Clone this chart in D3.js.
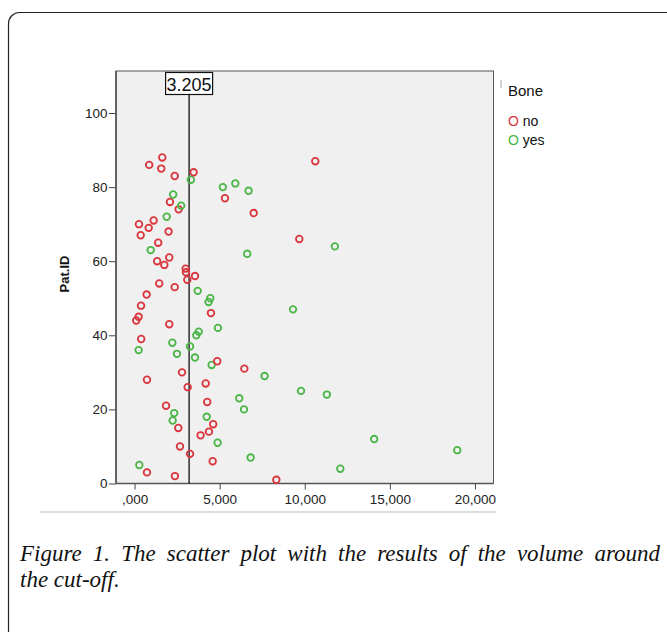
<!DOCTYPE html>
<html>
<head>
<meta charset="utf-8">
<script src="https://cdn.jsdelivr.net/npm/d3@7"></script>
<style>
  body { margin: 0; background: #fff; }
  .axis text { font-family: "Liberation Sans", Arial, sans-serif; font-size: 13.5px; fill: #222; }
  .axis line { stroke: #444; }
  .axis path { display: none; }
</style>
</head>
<body>
<svg id="chart" width="667" height="632"></svg>
<script>
// Pat.ID on y, volume on x, group = Bone
let patIds = [1, 2, 3, 4, 5, 6, 7, 8, 9, 10, 11, 12, 13, 14, 15, 16, 17, 18, 19, 20,
  21, 22, 23, 24, 25, 26, 27, 28, 29, 30, 31, 32, 33, 34, 35, 36, 37, 38, 39, 40,
  41, 42, 43, 44, 45, 46, 47, 48, 49, 50, 51, 52, 53, 54, 55, 56, 57, 58, 59, 60,
  61, 62, 63, 64, 65, 66, 67, 68, 69, 70, 71, 72, 73, 74, 75, 76, 77, 78, 79, 80,
  81, 82, 83, 84, 85, 86, 87, 88];
let volumes = [8.33, 2.37, 0.73, 12.09, 0.28, 4.59, 6.82, 3.26, 18.96, 2.67,
  4.88, 14.08, 3.88, 4.37, 2.57, 4.62, 2.24, 4.24, 2.33, 6.43,
  1.85, 4.27, 6.15, 11.30, 9.78, 3.12, 4.18, 0.73, 7.64, 2.79,
  6.45, 4.53, 4.86, 3.55, 2.49, 0.24, 3.26, 2.22, 0.39, 3.63,
  3.77, 4.90, 2.04, 0.10, 0.24, 4.49, 9.31, 0.38, 4.35, 4.45,
  0.71, 3.71, 2.36, 1.45, 3.10, 3.55, 3.02, 3.00, 1.75, 1.33,
  2.04, 6.62, 0.95, 11.77, 1.39, 9.68, 0.36, 2.00, 0.83, 0.26,
  1.12, 1.89, 7.00, 2.59, 2.74, 2.08, 5.31, 2.27, 6.70, 5.19,
  5.92, 3.31, 2.36, 3.47, 1.57, 0.86, 10.62, 1.63];
let bone = ["no", "no", "no", "yes", "yes", "no", "yes", "no", "yes", "no",
  "yes", "yes", "no", "no", "no", "no", "yes", "yes", "yes", "yes",
  "no", "no", "yes", "yes", "yes", "no", "no", "no", "yes", "no",
  "no", "yes", "no", "yes", "yes", "yes", "yes", "yes", "no", "yes",
  "yes", "yes", "no", "no", "no", "no", "yes", "no", "yes", "yes",
  "no", "yes", "no", "no", "no", "no", "no", "no", "no", "no",
  "no", "yes", "yes", "yes", "no", "no", "no", "no", "no", "no",
  "no", "yes", "no", "no", "yes", "no", "no", "yes", "yes", "yes",
  "yes", "yes", "no", "no", "no", "no", "no", "no"];

let groups = ["no", "yes"];
let xTickValues = [0, 5, 10, 15, 20];
let xTickLabels = [",000", "5,000", "10,000", "15,000", "20,000"];
let yTickValues = [0, 20, 40, 60, 80, 100];
let cutOff = 3.205;
let cutOffLabel = "3.205";
let legendTitle = "Bone";
let yTitle = "Pat.ID";
let caption = ["Figure 1. The scatter plot with the results of the volume around",
  "the cut-off."];

let plot = {left: 116, right: 493.5, top: 71, bottom: 483.5};

let xScale = d3.scaleLinear()
    .domain([-1.09, 21.09])
    .range([plot.left, plot.right]);
let yScale = d3.scaleLinear()
    .domain([0, 111.34])
    .range([plot.bottom, plot.top]);
let color = d3.scaleOrdinal()
    .domain(groups)
    .range(["#d9363e", "#4bb648"]);

let svg = d3.select("#chart");

// outer frame of the figure box
svg.append("rect")
    .attr("x", 8.5).attr("y", 12.5)
    .attr("width", 700).attr("height", 700)
    .attr("rx", 11)
    .attr("fill", "none")
    .attr("stroke", "#222")
    .attr("stroke-width", 1.2);

// faint edge under the chart image
svg.append("line")
    .attr("x1", 40).attr("x2", 496)
    .attr("y1", 512).attr("y2", 512)
    .attr("stroke", "#dcdcdc")
    .attr("stroke-width", 2);

// plot background
svg.append("rect")
    .attr("x", plot.left).attr("y", plot.top)
    .attr("width", plot.right - plot.left)
    .attr("height", plot.bottom - plot.top)
    .attr("fill", "#f0f0f0")
    .attr("stroke", "#555")
    .attr("stroke-width", 1);

svg.append("g")
    .attr("class", "y axis")
    .attr("transform", "translate(" + plot.left + ",0)")
    .call(d3.axisLeft(yScale).tickValues(yTickValues).tickSize(7).tickPadding(1.5));

svg.append("g")
    .attr("class", "x axis")
    .attr("transform", "translate(0," + plot.bottom + ")")
    .call(d3.axisBottom(xScale).tickValues(xTickValues)
      .tickFormat(function(d, i) { return xTickLabels[i]; })
      .tickSize(6).tickPadding(5));

// axis lines on the left and bottom a bit heavier
svg.append("line")
    .attr("x1", plot.left).attr("x2", plot.left)
    .attr("y1", plot.top).attr("y2", plot.bottom)
    .attr("stroke", "#555").attr("stroke-width", 1.6);
svg.append("line")
    .attr("x1", plot.left).attr("x2", plot.right)
    .attr("y1", plot.bottom).attr("y2", plot.bottom)
    .attr("stroke", "#555").attr("stroke-width", 1.6);

// y title
svg.append("text")
    .attr("transform", "translate(68.5,274) rotate(-90)")
    .style("text-anchor", "middle")
    .style("font-family", "Liberation Sans, Arial, sans-serif")
    .style("font-size", "13px")
    .style("font-weight", "bold")
    .attr("fill", "#111")
    .text(yTitle);

// cut-off reference line
let labelTop = 72.5, labelBottom = 94.5;
svg.append("line")
    .attr("x1", xScale(cutOff)).attr("x2", xScale(cutOff))
    .attr("y1", labelBottom).attr("y2", plot.bottom)
    .attr("stroke", "#111")
    .attr("stroke-width", 1.3);
svg.append("rect")
    .attr("x", xScale(cutOff) - 23.5).attr("y", labelTop)
    .attr("width", 47).attr("height", labelBottom - labelTop)
    .attr("fill", "#fff")
    .attr("stroke", "#111")
    .attr("stroke-width", 1.2);
svg.append("text")
    .attr("x", xScale(cutOff)).attr("y", 90.5)
    .style("text-anchor", "middle")
    .style("font-family", "Liberation Sans, Arial, sans-serif")
    .style("font-size", "18px")
    .attr("fill", "#111")
    .text(cutOffLabel);

// the points
svg.selectAll(".dot")
    .data(patIds)
  .enter().append("circle")
    .attr("class", "dot")
    .attr("cx", function(d, i) { return xScale(volumes[i]); })
    .attr("cy", function(d) { return yScale(d); })
    .attr("r", 3.3)
    .attr("fill", "none")
    .attr("stroke", function(d, i) { return color(bone[i]); })
    .attr("stroke-width", 1.8);

// legend
svg.append("line")
    .attr("x1", 501).attr("x2", 501)
    .attr("y1", 80).attr("y2", 88)
    .attr("stroke", "#aaa");
let legend = svg.append("g")
    .style("font-family", "Liberation Sans, Arial, sans-serif");
legend.append("text")
    .attr("x", 508).attr("y", 96)
    .style("font-size", "15px")
    .attr("fill", "#111")
    .text(legendTitle);
let items = legend.selectAll(".item")
    .data(groups)
  .enter().append("text")
    .attr("class", "item")
    .attr("x", 508)
    .attr("y", function(d, i) { return 126 + i * 19; })
    .style("font-size", "14px");
items.append("tspan")
    .attr("fill", function(d) { return color(d); })
    .text("O");
items.append("tspan")
    .attr("fill", "#111")
    .text(function(d) { return " " + d; });

// caption, first line justified
let cap = svg.append("g")
    .style("font-family", "Liberation Serif, Times New Roman, serif")
    .style("font-style", "italic")
    .style("font-size", "23px")
    .attr("fill", "#111");
let line1 = cap.append("text")
    .attr("x", 20).attr("y", 561)
    .text(caption[0]);
let natural = line1.node().getComputedTextLength();
let spaces = caption[0].split(" ").length - 1;
line1.attr("word-spacing", ((660 - 20 - natural) / spaces) + "px");
cap.append("text")
    .attr("x", 20).attr("y", 587)
    .text(caption[1]);
</script>
</body>
</html>
